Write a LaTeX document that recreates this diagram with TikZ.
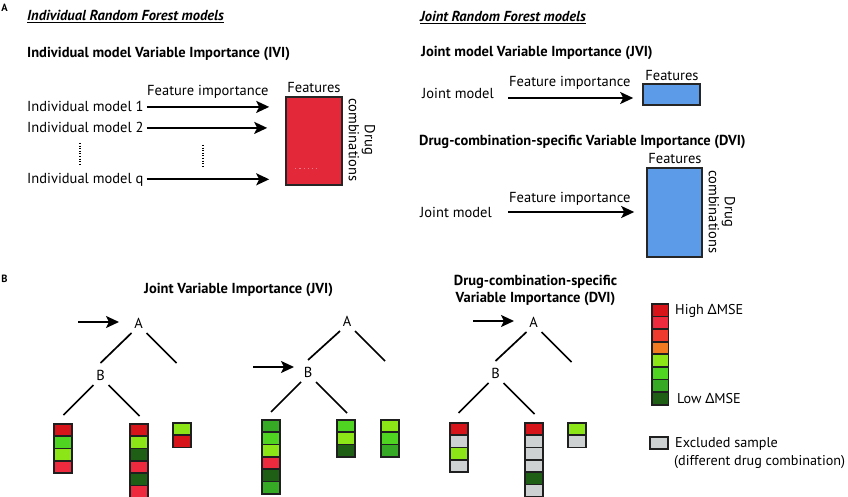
\documentclass[tikz,border=0pt]{standalone}
\usepackage{fontspec}
\setmainfont{PT Sans}
\newfontfamily\grkfont{Noto Sans}
\usetikzlibrary{arrows.meta}
\definecolor{matred}{HTML}{E3283A}
\definecolor{matblue}{HTML}{5B9BE8}
\definecolor{cDR}{HTML}{D7141A}
\definecolor{cR}{HTML}{EE2A3E}
\definecolor{cRO}{HTML}{EE3B2E}
\definecolor{cO}{HTML}{F27A21}
\definecolor{cLG}{HTML}{8CE617}
\definecolor{cG}{HTML}{4FD421}
\definecolor{cMG}{HTML}{36A925}
\definecolor{cDG}{HTML}{1F5E15}
\definecolor{cGr}{HTML}{CDD1D1}
\definecolor{pinkdot}{HTML}{F27C8C}
\newcommand\cellstack[4]{%
  \foreach \cc [count=\ii from 0] in {#4}{%
    \node[cell, fill=\cc] (#1-\ii) at (#2,{#3+\ii*12.3}) {};
  }}
\begin{document}
\begin{tikzpicture}[x=1pt,y=-1pt,
  txt/.style={inner sep=0pt, font=\fontsize{14.5}{16}\selectfont},
  lgt/.style={inner sep=0pt, font=\fontsize{14.2}{16}\selectfont},
  ttl/.style={inner sep=0pt, font=\bfseries\fontsize{14.5}{17}\selectfont},
  hdr/.style={inner sep=0pt, font=\bfseries\itshape\fontsize{14.5}{16}\selectfont},
  sec/.style={inner sep=0pt, font=\bfseries\fontsize{10.5}{12}\selectfont},
  arr/.style={line width=2pt, -{Stealth[length=13pt,width=12pt,inset=3pt]}},
  tree/.style={line width=1.7pt},
  mat/.style={draw=black!85, line width=1.6pt, inner sep=0pt},
  cell/.style={draw=black!88, line width=1.7pt, minimum width=18pt, minimum height=12.3pt, inner sep=0pt, anchor=north west},
  dotline/.style={line width=1.3pt, dash pattern=on 1pt off 1.6pt},
]
\useasboundingbox (0,0) rectangle (848,497);
\fill[white] (0,0) rectangle (848,497);

% ---------- Section A, left ----------
\node[sec] (secA) at (4.5,8) {A};
\node[hdr, anchor=base west] (hIRF) at (27,21) {\underline{Individual Random Forest models}};
\node[ttl, anchor=base west] (tIVI) at (27,58) {Individual model Variable Importance (IVI)};
\node[txt, anchor=base west] (fiA) at (147,96) {Feature importance};
\node[txt, anchor=base west] (im1) at (27,112) {Individual model 1};
\node[txt, anchor=base west] (im2) at (27,133) {Individual model 2};
\node[txt, anchor=base west] (imq) at (27,183) {Individual model q};
\node[mat, fill=matred, minimum width=56pt, minimum height=88pt] (redm) at (314,141) {};
\node[txt, anchor=base] (featA) at (314,93) {Features};
\node[txt, rotate=-90, align=center] (dcA) at (362,140) {Drug\\combinations};
\draw[arr, shorten <=3pt, shorten >=16pt] (im1.east) -- (im1.east -| redm.west);
\draw[arr, shorten <=3pt, shorten >=18pt] (im2.east) -- (im2.east -| redm.west);
\draw[arr, shorten <=3pt, shorten >=16pt] (imq.east) -- (imq.east -| redm.west);
\draw[dotline] (80,143) -- (80,164);
\draw[dotline] (203,145) -- (203,167);
\draw[pinkdot, line width=1pt, dash pattern=on 1.2pt off 3pt] ([shift={(10,-17)}]redm.south west) -- ([shift={(32,-17)}]redm.south west);

% ---------- Section A, right ----------
\node[hdr, anchor=base west] (hJRF) at (420,22) {\underline{Joint Random Forest models}};
\node[ttl, anchor=base west] (tJVI) at (421,57) {Joint model Variable Importance (JVI)};
\node[mat, fill=matblue, minimum width=57pt, minimum height=21pt] (blue1) at (671.5,94.5) {};
\node[txt, anchor=base] (featB) at (672,81) {Features};
\node[txt, anchor=base west] (fiB) at (509,87) {Feature importance};
\node[txt, anchor=base west] (jm1) at (422,99) {Joint model};
\coordinate (ja1) at (508,98);
\draw[arr, shorten >=9pt] (ja1) -- (ja1 -| blue1.west);

\node[ttl, anchor=base west] (tDVI) at (419,146) {Drug-combination-specific Variable Importance (DVI)};
\node[mat, fill=matblue, minimum width=55pt, minimum height=89pt] (blue2) at (674.5,212.5) {};
\node[txt, anchor=base] (featC) at (675,164) {Features};
\node[txt, rotate=-90, align=center] (dcB) at (722,212) {Drug\\combinations};
\node[txt, anchor=base west] (fiC) at (509,203) {Feature importance};
\node[txt, anchor=base west] (jm2) at (420,217) {Joint model};
\coordinate (ja2) at (508,212);
\draw[arr, shorten >=12pt] (ja2) -- (ja2 -| blue2.west);

% ---------- Section B ----------
\node[sec] (secB) at (4.5,279) {B};
\node[ttl, anchor=base west] (tJVIb) at (144,293) {Joint Variable Importance (JVI)};
\node[ttl, align=center] (tDVIb) at (535.5,290) {Drug-combination-specific\\Variable Importance (DVI)};

% tree 1
\node[txt] (t1A) at (138.5,323) {A};
\node[txt] (t1B) at (100.5,375) {B};
\coordinate (t1in) at (78,322);
\draw[arr] (t1in) -- (119,322);
\draw[tree] ([shift={(-7,10)}]t1A.center) -- ([shift={(0,-12)}]t1B.center);
\draw[tree] ([shift={(8,10)}]t1A.center) -- ([shift={(38,40)}]t1A.center);
\draw[tree] ([shift={(-7,10)}]t1B.center) -- ([shift={(-37,40)}]t1B.center);
\draw[tree] ([shift={(8,10)}]t1B.center) -- ([shift={(39,41)}]t1B.center);
\cellstack{t1a}{53}{423}{cDR,cG,cLG,cR}
\cellstack{t1b}{129}{423}{cDR,cLG,cDG,cR,cDG,cR}
\cellstack{t1c}{172}{422}{cLG,cDR}

% tree 2
\node[txt] (t2A) at (347,321) {A};
\node[txt] (t2B) at (308,372) {B};
\coordinate (t2in) at (253,367);
\draw[arr] (t2in) -- (294,367);
\draw[tree] ([shift={(-7,10)}]t2A.center) -- ([shift={(0,-12)}]t2B.center);
\draw[tree] ([shift={(8,10)}]t2A.center) -- ([shift={(38,40)}]t2A.center);
\draw[tree] ([shift={(-7,10)}]t2B.center) -- ([shift={(-37,40)}]t2B.center);
\draw[tree] ([shift={(8,10)}]t2B.center) -- ([shift={(39,41)}]t2B.center);
\cellstack{t2a}{261}{419}{cMG,cG,cLG,cR,cDG,cMG}
\cellstack{t2b}{336}{419}{cG,cLG,cDG}
\cellstack{t2c}{380}{419}{cLG,cG,cMG}

% tree 3
\node[txt] (t3A) at (533.5,322) {A};
\node[txt] (t3B) at (495.5,373) {B};
\coordinate (t3in) at (473,321);
\draw[arr] (t3in) -- (514,321);
\draw[tree] ([shift={(-7,10)}]t3A.center) -- ([shift={(0,-12)}]t3B.center);
\draw[tree] ([shift={(8,10)}]t3A.center) -- ([shift={(38,40)}]t3A.center);
\draw[tree] ([shift={(-7,10)}]t3B.center) -- ([shift={(-37,40)}]t3B.center);
\draw[tree] ([shift={(8,10)}]t3B.center) -- ([shift={(39,41)}]t3B.center);
\cellstack{t3a}{449}{422}{cDR,cGr,cLG,cGr}
\cellstack{t3b}{524}{422}{cDR,cGr,cGr,cGr,cDG,cGr}
\cellstack{t3c}{567}{422}{cLG,cGr}

% legend
\foreach \cc [count=\ii from 0] in {cDR,cR,cRO,cO,cLG,cG,cMG,cDG}{%
  \node[cell, fill=\cc, minimum width=16.5pt, minimum height=12.6pt] (lg-\ii) at (651,{303+\ii*12.6}) {};
}
\node[lgt, anchor=base west] (hiM) at (675,314) {High {\grkfont Δ}MSE};
\node[lgt, anchor=base west] (loM) at (677,403) {Low {\grkfont Δ}MSE};
\node[cell, fill=cGr, minimum height=12pt] (lgx) at (649,436) {};
\node[lgt, anchor=base west] (exs) at (675,447) {Excluded sample};
\node[lgt, anchor=base west] (exd) at (674,465) {(different drug combination)};
\end{tikzpicture}
\end{document}
